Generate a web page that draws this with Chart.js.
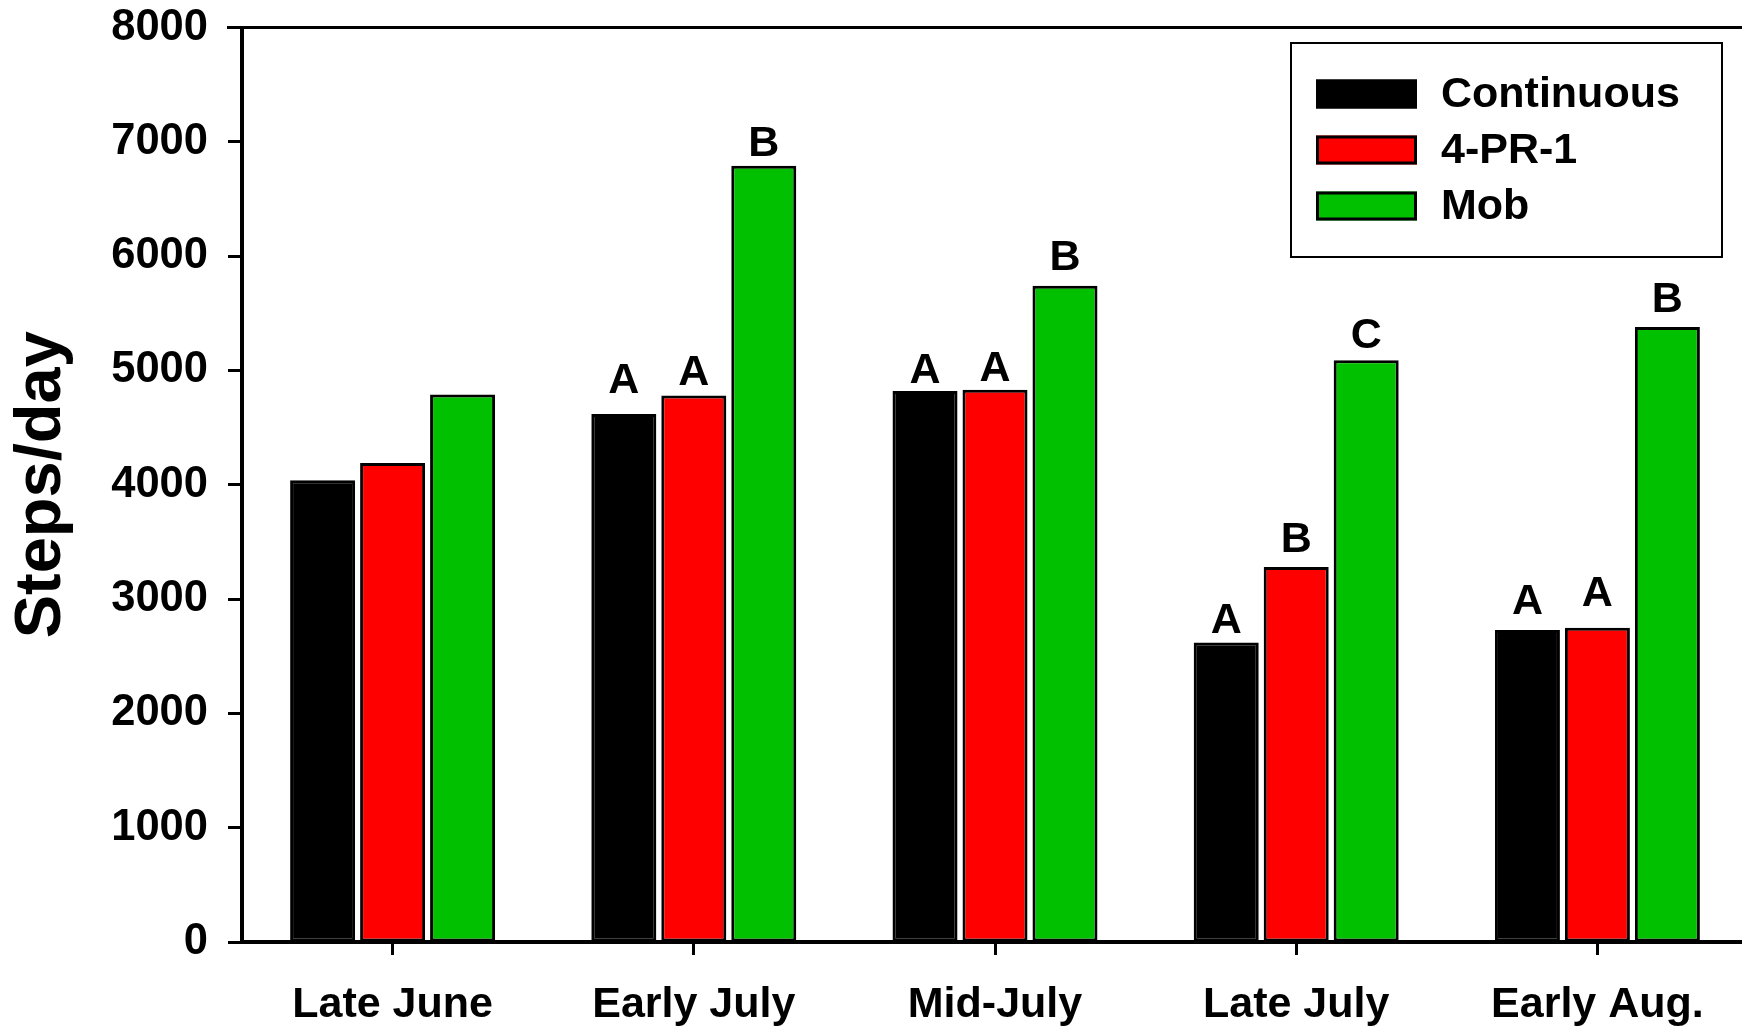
<!DOCTYPE html>
<html>
<head>
<meta charset="utf-8">
<script src="https://cdn.jsdelivr.net/npm/chart.js@4.4.1/dist/chart.umd.min.js"></script>
<style>
  html, body { margin: 0; padding: 0; background: #fff; overflow: hidden; }
  #wrap { width: 1742px; height: 1028px; overflow: hidden; }
  canvas { display: block; }
</style>
</head>
<body>
<div id="wrap"><canvas id="c" width="1748" height="1028"></canvas></div>
<script>
// ---- data ----
const categories = ['Late June', 'Early July', 'Mid-July', 'Late July', 'Early Aug.'];
const seriesNames = ['Continuous', '4-PR-1', 'Mob'];
const continuousValues = [4040, 4620, 4820, 2620, 2730];
const pr1Values = [4190, 4780, 4830, 3280, 2750];
const mobValues = [4790, 6790, 5740, 5090, 5380];
// significance letters and the value height at which each letter sits
const continuousLetters = ['', 'A', 'A', 'A', 'A'];
const pr1Letters = ['', 'A', 'A', 'B', 'A'];
const mobLetters = ['', 'B', 'B', 'C', 'B'];
const continuousLetterPos = [0, 4800, 4890, 2700, 2870];
const pr1LetterPos = [0, 4870, 4910, 3410, 2940];
const mobLetterPos = [0, 6880, 5880, 5200, 5510];
const yTickStep = 1000;
const yMax = 8000;

const FONT = '"Liberation Sans", Arial, Helvetica, sans-serif';
const colors = ['#000000', '#ff0000', '#00c000'];
const letters = [continuousLetters, pr1Letters, mobLetters];
const letterPos = [continuousLetterPos, pr1LetterPos, mobLetterPos];

const lettersPlugin = {
  id: 'letters',
  afterDatasetsDraw(chart) {
    const ctx = chart.ctx;
    const y = chart.scales.y;
    ctx.save();
    ctx.fillStyle = '#000';
    ctx.font = 'bold 43px ' + FONT;
    ctx.textAlign = 'center';
    ctx.textBaseline = 'alphabetic';
    chart.data.datasets.forEach((ds, di) => {
      const meta = chart.getDatasetMeta(di);
      meta.data.forEach((bar, i) => {
        const t = letters[di][i];
        if (!t) return;
        ctx.fillText(t, bar.x, y.getPixelForValue(letterPos[di][i]));
      });
    });
    ctx.restore();
  }
};

const frameLegendPlugin = {
  id: 'frameLegend',
  afterDraw(chart) {
    const ctx = chart.ctx;
    const a = chart.chartArea;
    ctx.save();
    // top frame line
    ctx.strokeStyle = '#000';
    ctx.lineWidth = 3;
    ctx.beginPath();
    ctx.moveTo(a.left - 15, a.top);
    ctx.lineTo(a.right, a.top);
    ctx.stroke();
    // legend box
    const bx = 1291, by = 43, bw = 431, bh = 214;
    ctx.fillStyle = '#fff';
    ctx.fillRect(bx, by, bw, bh);
    ctx.lineWidth = 2;
    ctx.strokeRect(bx, by, bw, bh);
    ctx.font = 'bold 43px ' + FONT;
    ctx.textAlign = 'left';
    ctx.textBaseline = 'middle';
    chart.data.datasets.forEach((ds, i) => {
      const cy = 94 + i * 56;
      ctx.fillStyle = ds.backgroundColor;
      ctx.fillRect(1316, cy - 14.5, 101, 29);
      ctx.lineWidth = 3;
      ctx.strokeStyle = '#000';
      ctx.strokeRect(1317.5, cy - 13, 98, 26);
      ctx.fillStyle = '#000';
      ctx.fillText(ds.label, 1441, cy + 1);
    });
    ctx.restore();
  }
};

const seriesValues = [continuousValues, pr1Values, mobValues];

new Chart(document.getElementById('c'), {
  type: 'bar',
  data: {
    labels: categories,
    datasets: seriesNames.map((name, i) => ({
      label: name,
      data: seriesValues[i],
      backgroundColor: colors[i],
      borderColor: '#000',
      borderWidth: 3,
      borderSkipped: false,
      categoryPercentage: 0.697,
      barPercentage: 0.929
    }))
  },
  options: {
    responsive: false,
    animation: false,
    devicePixelRatio: 1,
    layout: { padding: { top: 27.5, left: 0, right: 0, bottom: 0 } },
    plugins: { legend: { display: false }, tooltip: { enabled: false } },
    scales: {
      x: {
        offset: true,
        grid: { offset: false, drawOnChartArea: false, drawTicks: true, tickLength: 13, tickWidth: 3, tickColor: '#000' },
        border: { display: true, color: '#000', width: 4 },
        ticks: { color: '#000', padding: 24, font: { family: FONT, size: 43, weight: 'bold' }, maxRotation: 0, autoSkip: false },
        afterFit(scale) { scale.height = 86; scale.paddingLeft = 0; scale.paddingRight = 0; }
      },
      y: {
        min: 0,
        max: yMax,
        grid: { drawOnChartArea: false, drawTicks: true, tickLength: 14, tickWidth: 3, tickColor: '#000' },
        border: { display: true, color: '#000', width: 4 },
        ticks: {
          stepSize: yTickStep,
          color: '#000',
          padding: 20,
          font: { family: FONT, size: 43.5, weight: 'bold' },
          callback: (v) => String(v)
        },
        title: {
          display: true,
          text: 'Steps/day',
          color: '#000',
          font: { family: FONT, size: 65, weight: 'bold', lineHeight: 1 },
          padding: { top: 10, bottom: 0 }
        },
        afterFit(scale) { scale.width = 242; scale.paddingTop = 0; scale.paddingBottom = 0; }
      }
    }
  },
  plugins: [lettersPlugin, frameLegendPlugin]
});
</script>
</body>
</html>
